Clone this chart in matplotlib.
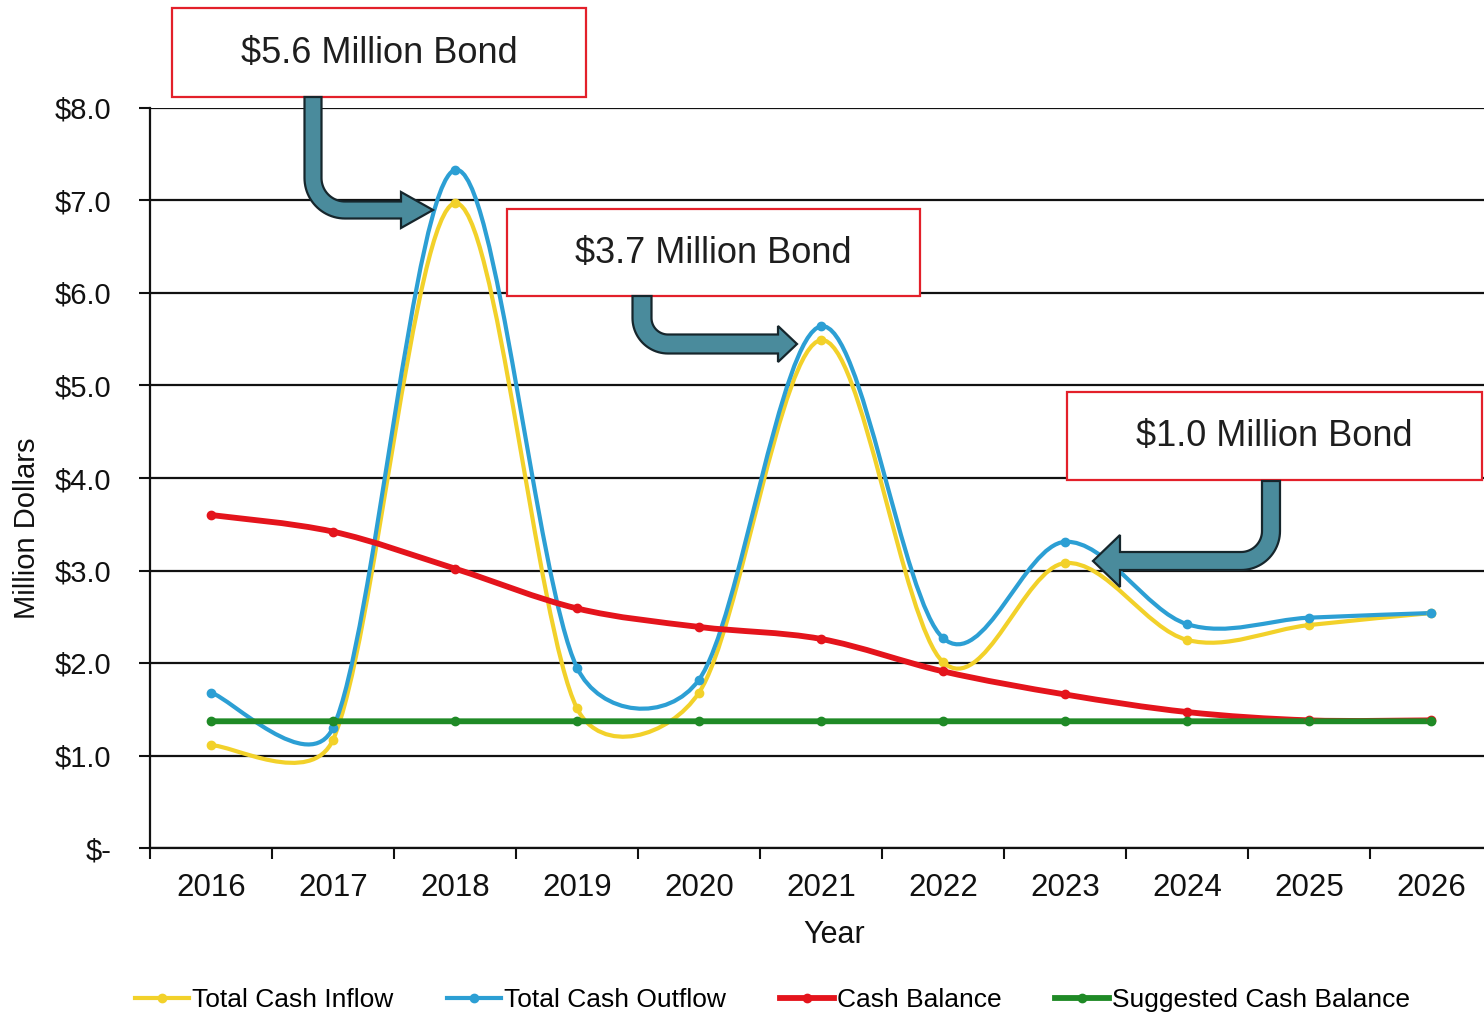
import numpy as np
import matplotlib
matplotlib.use("Agg")
import matplotlib.pyplot as plt
from matplotlib.path import Path
from matplotlib.patches import PathPatch, Rectangle, Polygon
from matplotlib.lines import Line2D
from matplotlib.transforms import Affine2D

plt.rcParams['font.family'] = ['Liberation Sans', 'DejaVu Sans']

# ---------------- data ----------------
years = ['2016', '2017', '2018', '2019', '2020', '2021', '2022', '2023', '2024', '2025', '2026']
inflow = [1.11, 1.17, 6.97, 1.51, 1.68, 5.49, 2.01, 3.08, 2.25, 2.41, 2.54]
outflow = [1.68, 1.30, 7.33, 1.95, 1.82, 5.64, 2.27, 3.31, 2.42, 2.49, 2.54]
balance = [3.60, 3.42, 3.02, 2.59, 2.39, 2.26, 1.91, 1.66, 1.47, 1.38, 1.38]
suggested = [1.37, 1.37, 1.37, 1.37, 1.37, 1.37, 1.37, 1.37, 1.37, 1.37, 1.37]
ytick_vals = [0, 1, 2, 3, 4, 5, 6, 7, 8]
ytick_labels = ['$-', '$1.0', '$2.0', '$3.0', '$4.0', '$5.0', '$6.0', '$7.0', '$8.0']
series_names = ['Total Cash Inflow', 'Total Cash Outflow', 'Cash Balance', 'Suggested Cash Balance']
bonds = ['$5.6 Million Bond', '$3.7 Million Bond', '$1.0 Million Bond']

C_IN = '#f2d12a'
C_OUT = '#2c9fd4'
C_BAL = '#e4141c'
C_SUG = '#1f8a26'

W, H = 1484, 1016
fig = plt.figure(figsize=(W / 100, H / 100), dpi=100)
ax = fig.add_axes([150 / W, (H - 848) / H, (1492 - 150) / W, 740 / H])
ax.set_xlim(-0.5, 10.5)
ax.set_ylim(0, 8)

# pixel scale for Excel-like smoothing distances
sx = 1342 / 11.0
sy = 740 / 8.0
CLAMP = 0.44


def excel_smooth_path(xs, ys):
    P = np.column_stack([np.asarray(xs, float), np.asarray(ys, float)])
    n = len(P)
    S = np.array([sx, sy])

    def d(a, b):
        return np.linalg.norm((a - b) * S)

    verts = [P[0]]
    codes = [Path.MOVETO]
    for i in range(n - 1):
        p0 = P[i - 1] if i > 0 else P[i]
        p1 = P[i]
        p2 = P[i + 1]
        p3 = P[i + 2] if i + 2 < n else P[i + 1]
        d12 = d(p1, p2)
        d02 = d(p0, p2)
        d13 = d(p1, p3)
        f = 1 / 6.0
        g = 1 / 6.0
        if d02 > 0 and d02 / 6 > d12 * CLAMP:
            f = d12 * CLAMP / d02
        if d13 > 0 and d13 / 6 > d12 * CLAMP:
            g = d12 * CLAMP / d13
        c1 = p1 + f * (p2 - p0)
        c2 = p2 - g * (p3 - p1)
        verts += [c1, c2, p2]
        codes += [Path.CURVE4] * 3
    return Path(np.array(verts), codes)


xs = np.arange(len(years))
styles = [
    (inflow, C_IN, 3.0),
    (outflow, C_OUT, 3.0),
    (balance, C_BAL, 4.2),
    (suggested, C_SUG, 4.2),
]
for vals, col, lw in styles:
    pp = PathPatch(excel_smooth_path(xs, vals), fill=False, edgecolor=col, lw=lw,
                   capstyle='round', joinstyle='round', zorder=3)
    ax.add_patch(pp)
    ax.plot(xs, vals, linestyle='none', marker='o', markersize=6, color=col, zorder=4)

# axes styling
for s in ['top', 'right']:
    ax.spines[s].set_visible(False)
ax.spines['left'].set_linewidth(1.6)
ax.spines['bottom'].set_linewidth(1.6)
ax.spines['left'].set_color('#111111')
ax.spines['bottom'].set_color('#111111')
ax.set_yticks(ytick_vals)
ax.set_yticklabels(ytick_labels)
ax.tick_params(axis='y', direction='out', length=8, width=1.5, pad=20, labelsize=21,
               colors='#111111')
ax.set_xticks(xs)
ax.set_xticklabels(years)
ax.set_xticks(np.arange(-0.5, 10.6, 1.0), minor=True)
ax.tick_params(axis='x', which='major', length=0, pad=18, labelsize=22.5, colors='#111111')
ax.tick_params(axis='x', which='minor', direction='out', length=8, width=1.5, colors='#111111')
ax.yaxis.grid(True, color='#111111', lw=1.6)
ax.set_axisbelow(True)
ax.set_xlabel('Year', fontsize=22, color='#111111', labelpad=10)
ax.set_ylabel('Million Dollars', fontsize=21, color='#111111', labelpad=6)
ax.yaxis.set_label_coords(-0.081, 0.432)
ax.xaxis.set_label_coords(0.51, -0.097)

# legend
handles = [Line2D([0], [0], color=c, lw=lw, marker='o', markersize=6)
           for (_, c, lw) in styles]
fig.legend(handles, series_names, loc='center left', bbox_to_anchor=(135 / W, 1 - 1000 / H),
           ncol=4, frameon=False, fontsize=19, handlelength=2.05, handletextpad=0.1,
           columnspacing=2.05, borderpad=0, borderaxespad=0)

# pixel transform (origin top-left)
pix = Affine2D().scale(1 / W, -1 / H).translate(0, 1) + fig.transFigure


def bent_arrow(start, corner, tip, w, r, head_len, head_w):
    p0 = np.array(start, float)
    c = np.array(corner, float)
    t = np.array(tip, float)
    d1 = (c - p0) / np.linalg.norm(c - p0)
    d2 = (t - c) / np.linalg.norm(t - c)
    a0 = c - d1 * r
    a1 = c + d2 * r
    cen = a0 + d2 * r
    th0 = np.arctan2(*(a0 - cen)[::-1])
    th1 = np.arctan2(*(a1 - cen)[::-1])
    dth = (th1 - th0 + np.pi) % (2 * np.pi) - np.pi
    ths = np.linspace(th0, th0 + dth, 24)
    arc = np.column_stack([cen[0] + r * np.cos(ths), cen[1] + r * np.sin(ths)])
    base = t - d2 * head_len
    pts = np.vstack([p0, arc, base])
    tang = np.gradient(pts, axis=0)
    tang /= np.linalg.norm(tang, axis=1)[:, None]
    nrm = np.column_stack([-tang[:, 1], tang[:, 0]])
    left = pts + nrm * w / 2
    right = pts - nrm * w / 2
    ne = nrm[-1]
    head = [base + ne * head_w / 2, t, base - ne * head_w / 2]
    poly = np.vstack([left, head, right[::-1]])
    fig.patches.append(Polygon(poly, closed=True, facecolor='#4a8b9c', edgecolor='#16262c',
                               lw=1.6, joinstyle='miter', transform=pix, zorder=10))


def bond_box(x0, y0, x1, y1, text):
    fig.patches.append(Rectangle((x0, y0), x1 - x0, y1 - y0, facecolor='white',
                                 edgecolor='#e3202a', lw=1.6, transform=pix, zorder=9))
    fig.text((x0 + x1) / 2, (y0 + y1) / 2 + 1, text, transform=pix, ha='center', va='center',
             fontsize=26, color='#1e1e1e', zorder=11)


bond_box(172, 8, 586, 97, bonds[0])
bond_box(507, 209, 920, 296, bonds[1])
bond_box(1067, 392, 1482, 480, bonds[2])

bent_arrow((313, 97), (313, 210), (433, 210), 17, 32, 32, 36)
bent_arrow((642, 296), (642, 344), (797, 344), 19, 26, 19, 36)
bent_arrow((1271, 481), (1271, 561), (1093, 561), 18, 30, 27, 52)

fig.savefig('out.png', dpi=100)
